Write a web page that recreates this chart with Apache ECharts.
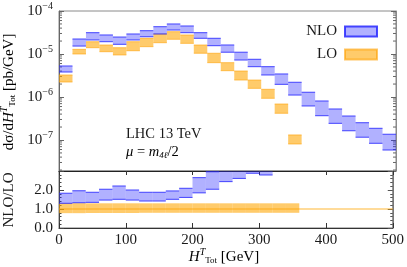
<!DOCTYPE html>
<html>
<head>
<meta charset="utf-8">
<script src="https://cdn.jsdelivr.net/npm/echarts@6/dist/echarts.min.js"></script>
<style>html,body{margin:0;padding:0;background:#fff;}#c{width:407px;height:267px;}</style>
</head>
<body>
<div id="c"></div>
<script>
// ---- data ----
const binEdges = [0,20,40,60,80,100,120,140,160,180,200,220,240,260,280,300,320,340,360,380,400,420,440,460,480,500];
const nloHigh = [5.26e-6,2.23e-5,3.13e-5,2.77e-5,2.48e-5,2.92e-5,3.48e-5,4.31e-5,4.99e-5,4.48e-5,3.13e-5,2.32e-5,1.62e-5,1.10e-5,7.53e-6,5.07e-6,3.43e-6,2.20e-6,1.29e-6,8.07e-7,5.26e-7,3.61e-7,2.52e-7,1.87e-7,1.36e-7];
const nloLow  = [3.81e-6,1.53e-5,2.12e-5,1.93e-5,1.68e-5,2.12e-5,2.52e-5,2.92e-5,3.61e-5,3.13e-5,2.32e-5,1.56e-5,1.10e-5,7.24e-6,5.07e-6,3.25e-6,1.97e-6,1.11e-6,6.18e-7,3.67e-7,2.44e-7,1.64e-7,1.16e-7,8.38e-8,5.85e-8];
const loHigh  = [3.25e-6,1.285e-5,1.93e-5,1.62e-5,1.40e-5,1.93e-5,2.32e-5,2.92e-5,3.30e-5,2.77e-5,1.62e-5,1.04e-5,6.28e-6,4.02e-6,2.48e-6,1.51e-6,6.87e-7,1.31e-7];
const loLow   = [2.23e-6,1.00e-5,1.40e-5,1.13e-5,9.5e-6,1.19e-5,1.48e-5,1.83e-5,2.20e-5,1.77e-5,1.04e-5,6.28e-6,4.09e-6,2.48e-6,1.59e-6,9.33e-7,4.18e-7,8.07e-8];
const ratioNloLow  = [1.30,1.33,1.35,1.47,1.51,1.47,1.42,1.42,1.51,1.61,1.85,2.04,2.44,2.61,2.88,2.79,3.6,11];
const ratioNloHigh = [1.83,1.96,1.88,2.04,2.21,2.00,1.88,1.88,1.95,2.09,2.65,2.96,3.30,3.60,3.90,4.20,6.4,21];
const ratioLoLow   = [0.78,0.78,0.79,0.79,0.79,0.79,0.80,0.80,0.80,0.80,0.80,0.80,0.80,0.80,0.80,0.80,0.80,0.80];
const ratioLoHigh  = [1.31,1.31,1.30,1.30,1.30,1.30,1.30,1.30,1.30,1.30,1.30,1.30,1.30,1.30,1.30,1.30,1.30,1.30];
const refLine = [[0,1],[500,1]];
const logMinorMantissa = [2,3,4,5,6,7,8,9];
const logDecades = [-8,-7,-6,-5];
const yMin = 1.9e-8, yMax = 1e-4;

// ---- helpers ----
function bands(lo, hi){ return lo.map((v,i)=>[binEdges[i], binEdges[i+1], v, hi[i]]); }
const minorVals = [];
logDecades.forEach(d => logMinorMantissa.forEach(m => { const v = m*Math.pow(10,d); if (v>yMin && v<yMax) minorVals.push([0, v]); }));

function bandRender(fill, edge, edgeW){
  return function(params, api){
    const p0 = api.coord([api.value(0), api.value(3)]);
    const p1 = api.coord([api.value(1), api.value(2)]);
    const cs = params.coordSys;
    const rect = echarts.graphic.clipRectByRect({x:p0[0], y:p0[1], width:p1[0]-p0[0], height:p1[1]-p0[1]},
      {x:cs.x, y:cs.y, width:cs.width, height:cs.height});
    if (!rect) return;
    const ch = [{type:'rect', shape:rect, style:{fill:fill}}];
    if (edge) {
      if (p0[1] >= cs.y - 0.1 && p0[1] <= cs.y + cs.height) ch.push({type:'line', shape:{x1:rect.x, y1:p0[1], x2:rect.x+rect.width, y2:p0[1]}, style:{stroke:edge, lineWidth:edgeW}});
      if (p1[1] >= cs.y && p1[1] <= cs.y + cs.height + 0.1) ch.push({type:'line', shape:{x1:rect.x, y1:p1[1], x2:rect.x+rect.width, y2:p1[1]}, style:{stroke:edge, lineWidth:edgeW}});
    }
    return {type:'group', children:ch};
  };
}

const FONT = 'Liberation Serif';
const TXT = '#1a1a1a';
const blueFill = 'rgba(40,40,255,0.36)', blueEdge = 'rgba(40,40,255,0.85)';
const orFill = 'rgba(255,165,0,0.58)', orEdge = 'rgba(255,160,0,0.6)';
const richBase = {
  n:{fontFamily:FONT, fontSize:15, color:TXT},
  i:{fontFamily:FONT, fontSize:15, fontStyle:'italic', color:TXT},
  sup:{fontFamily:FONT, fontSize:10, fontStyle:'italic', color:TXT, padding:[0,0,9,0]},
  sub:{fontFamily:FONT, fontSize:9, color:TXT, padding:[7,0,0,0]}
};

const chart = echarts.init(document.getElementById('c'), null, {renderer:'canvas'});
const frame = '#666';
chart.setOption({
  animation:false,
  grid:[
    {left:59, right:11, top:11, height:160, show:true, borderColor:'#8a8a8a', borderWidth:1},
    {left:59, right:11, top:171, height:57, show:true, borderColor:'#777', borderWidth:1}
  ],
  legend:{
    data:['NLO','LO'], orient:'vertical', right:24, top:19, itemWidth:32, itemHeight:10, itemGap:8,
    align:'right', icon:'rect',
    textStyle:{fontFamily:FONT, fontSize:15, color:TXT, padding:[0,3,0,0]}
  },
  xAxis:[
    {type:'value', gridIndex:0, min:0, max:500, interval:100, axisLine:{show:true, lineStyle:{color:'#8a8a8a'}}, axisTick:{show:false}, axisLabel:{show:false}, splitLine:{show:false}},
    {type:'value', gridIndex:1, min:0, max:500, interval:100, position:'bottom',
      axisLine:{show:true, onZero:false, lineStyle:{color:'#333'}},
      axisTick:{show:true, inside:true, length:5, lineStyle:{color:'#333'}},
      axisLabel:{fontFamily:FONT, fontSize:15, color:TXT, margin:5},
      splitLine:{show:false}},
    {type:'value', gridIndex:1, min:0, max:500, interval:100, position:'top',
      axisLine:{show:true, onZero:false, lineStyle:{color:'#222'}},
      axisTick:{show:true, inside:true, length:4, lineStyle:{color:'#333'}},
      axisLabel:{show:false}, splitLine:{show:false}}
  ],
  yAxis:[
    {type:'log', logBase:10, gridIndex:0, min:yMin, max:yMax, position:'left',
      axisLine:{show:true, lineStyle:{color:frame}},
      axisTick:{show:true, inside:true, length:5, lineStyle:{color:frame}},
      axisLabel:{margin:6, color:TXT,
        formatter:function(v){ const e=Math.log10(v); const r=Math.round(e); if (Math.abs(e-r)>1e-6) return ''; return '{b|10}{s|\u2212'+(-r)+'}'; },
        rich:{b:{fontFamily:FONT, fontSize:15, color:TXT}, s:{fontFamily:FONT, fontSize:10, color:TXT, padding:[0,0,9,0]}}},
      splitLine:{show:false}},
    {type:'log', logBase:10, gridIndex:0, min:yMin, max:yMax, position:'right',
      axisLine:{show:true, lineStyle:{color:'#8a8a8a'}},
      axisTick:{show:true, inside:true, length:5, lineStyle:{color:frame}},
      axisLabel:{show:false}, splitLine:{show:false}},
    {type:'value', gridIndex:1, min:0, max:3, interval:1, position:'left',
      axisLine:{show:true, onZero:false, lineStyle:{color:'#444'}},
      axisTick:{show:true, inside:true, length:5, lineStyle:{color:'#444'}},
      minorTick:{show:true, splitNumber:5, length:2.5, lineStyle:{color:'#444'}},
      axisLabel:{fontFamily:FONT, fontSize:15, color:TXT, margin:6, formatter:function(v){ return v<2.5 ? v.toFixed(1) : ''; }},
      splitLine:{show:false}},
    {type:'value', gridIndex:1, min:0, max:3, interval:1, position:'right',
      axisLine:{show:true, onZero:false, lineStyle:{color:'#777'}},
      axisTick:{show:true, inside:true, length:5, lineStyle:{color:'#555'}},
      minorTick:{show:true, splitNumber:5, length:2.5, lineStyle:{color:'#555'}},
      axisLabel:{show:false}, splitLine:{show:false}}
  ],
  series:[
    {name:'minor', type:'custom', xAxisIndex:0, yAxisIndex:0, data:minorVals, silent:true,
      renderItem:function(params, api){
        const p = api.coord([0, api.value(1)]); const cs = params.coordSys;
        return {type:'group', children:[
          {type:'line', shape:{x1:cs.x, y1:p[1], x2:cs.x+3, y2:p[1]}, style:{stroke:frame, lineWidth:1}},
          {type:'line', shape:{x1:cs.x+cs.width-3, y1:p[1], x2:cs.x+cs.width, y2:p[1]}, style:{stroke:frame, lineWidth:1}}
        ]};
      }},
    {name:'LO', type:'custom', xAxisIndex:0, yAxisIndex:0, data:bands(loLow, loHigh), encode:{x:[0,1], y:[2,3]},
      itemStyle:{color:orFill, borderColor:orEdge, borderWidth:1},
      renderItem:bandRender(orFill, orEdge, 1)},
    {name:'NLO', type:'custom', xAxisIndex:0, yAxisIndex:0, data:bands(nloLow, nloHigh), encode:{x:[0,1], y:[2,3]},
      itemStyle:{color:blueFill, borderColor:blueEdge, borderWidth:1},
      renderItem:bandRender(blueFill, blueEdge, 1)},
    {name:'LO', type:'custom', xAxisIndex:1, yAxisIndex:2, data:bands(ratioLoLow, ratioLoHigh), encode:{x:[0,1], y:[2,3]},
      itemStyle:{color:orFill}, renderItem:bandRender(orFill, null, 1)},
    {name:'LO', type:'line', xAxisIndex:1, yAxisIndex:2, data:refLine, symbol:'none', lineStyle:{color:'rgba(255,165,0,0.8)', width:1}},
    {name:'NLO', type:'custom', xAxisIndex:1, yAxisIndex:2, data:bands(ratioNloLow, ratioNloHigh), encode:{x:[0,1], y:[2,3]},
      itemStyle:{color:blueFill}, renderItem:bandRender(blueFill, blueEdge, 1)}
  ],
  graphic:[
    {type:'text', x:9, y:92, rotation:Math.PI/2, style:{text:'{n|d\u03c3/d}{i|H}{sup|T}{sub|Tot}{n| [pb/GeV]}', rich:richBase, align:'center', verticalAlign:'middle'}},
    {type:'text', x:9, y:200, rotation:Math.PI/2, style:{text:'NLO/LO', fontFamily:FONT, fontSize:15, fill:TXT, align:'center', verticalAlign:'middle'}},
    {type:'text', x:224, y:257, style:{text:'{i|H}{sup|T}{sub|Tot}{n| [GeV]}', rich:richBase, align:'center', verticalAlign:'middle'}},
    {type:'text', x:126, y:134, style:{text:'LHC 13 TeV', fontFamily:FONT, fontSize:14.5, fill:TXT, align:'left', verticalAlign:'middle'}},
    {type:'text', x:126, y:152, style:{text:'{i|\u03bc}{n| = }{i|m}{sub|4\u2113}{n|/2}', align:'left', verticalAlign:'middle',
      rich:{n:{fontFamily:FONT, fontSize:14.5, color:TXT}, i:{fontFamily:FONT, fontSize:14.5, fontStyle:'italic', color:TXT}, sub:{fontFamily:FONT, fontSize:9, fontStyle:'italic', color:TXT, padding:[7,0,0,0]}}}}
  ]
});
</script>
</body>
</html>
